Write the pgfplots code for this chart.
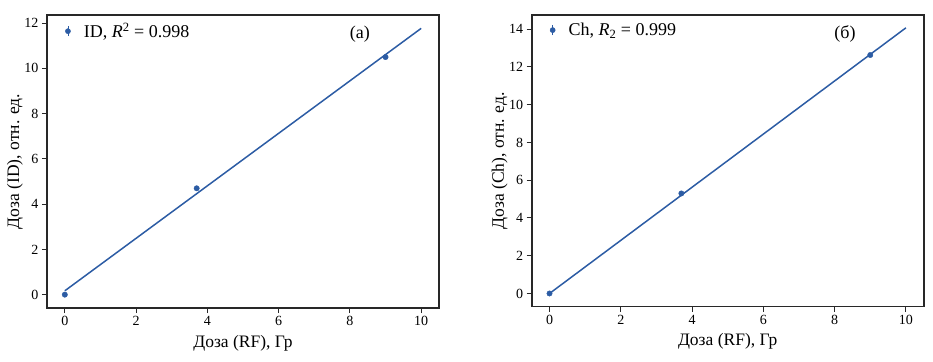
\documentclass[border=0pt]{standalone}
\usepackage{pgfplots}
\pgfplotsset{compat=1.18}
\usepackage{fontspec}
\setmainfont{Liberation Serif}
\definecolor{fitblue}{RGB}{44,92,164}
\definecolor{frame}{RGB}{40,40,40}
\begin{document}
\begin{tikzpicture}
\path[use as bounding box] (0,0) rectangle (933pt,361pt);
\pgfplotsset{
  myax/.style={
    scale only axis, width=392pt, anchor=south west,
    axis line style={draw=frame, line width=1.2pt},
    tick align=outside, major tick length=5pt,
    every tick/.style={frame, line width=1pt},
    xtick pos=bottom, ytick pos=left,
    ticklabel style={font=\fontsize{14}{16}\selectfont},
    label style={font=\fontsize{17.5}{20}\selectfont},
    /pgf/number format/assume math mode=true,
    xmin=-0.5, xmax=10.5, xtick={0,2,4,6,8,10},
    xlabel={Доза (RF), Гр},
    xlabel style={at={(axis description cs:0.5,-0.12)}, anchor=center},
    ylabel style={at={(axis description cs:-0.0816,0.5)}, anchor=center},
    legend style={draw=none, fill=none, at={(axis description cs:0.03,0.99)}, anchor=north west,
      font=\fontsize{18}{20}\selectfont, inner sep=3pt},
    legend cell align=left,
    legend image code/.code={
      \path[draw=none, fill=none] (0pt,0pt) -- (20pt,0pt);
      \draw[fitblue, line width=0.8pt] (6pt,-5pt) -- (6pt,5pt);
      \fill[fitblue] (6pt,0) circle (2.6pt);
    },
  }
}
\begin{axis}[myax, at={(47pt,53pt)}, height=293pt,
  ymin=-0.59, ymax=12.36, ytick={0,2,4,6,8,10,12},
  ylabel={Доза (ID), отн. ед.}]
\addplot[fitblue, line width=1.5pt, forget plot] coordinates {(0,0.17) (10,11.77)};
\addplot[only marks, mark=*, mark size=2.7pt, fitblue] coordinates {(0,0) (3.7,4.7) (9,10.5)};
\addlegendentry{ID, \textit{R}\textsuperscript{2} = 0.998}
\node[font=\fontsize{18}{20}\selectfont] at (axis description cs:0.798,0.935) {(a)};
\end{axis}
\begin{axis}[myax, at={(531.7pt,54.3pt)}, height=291.7pt,
  ymin=-0.70, ymax=14.75, ytick={0,2,4,6,8,10,12,14},
  ylabel={Доза (Ch), отн. ед.}]
\addplot[fitblue, line width=1.5pt, forget plot] coordinates {(0,0.0) (10,14.07)};
\addplot[only marks, mark=*, mark size=2.7pt, fitblue] coordinates {(0,0) (3.7,5.3) (9,12.63)};
\addlegendentry{Ch, \textit{R}\textsubscript{2} = 0.999}
\node[font=\fontsize{18}{20}\selectfont] at (axis description cs:0.799,0.935) {(б)};
\end{axis}
\draw[frame, line width=1.6pt] (47pt,53pt) rectangle ++(392pt,293pt);
\draw[frame, line width=1.6pt] (531.7pt,54.3pt) rectangle ++(392pt,291.7pt);
\end{tikzpicture}
\end{document}
